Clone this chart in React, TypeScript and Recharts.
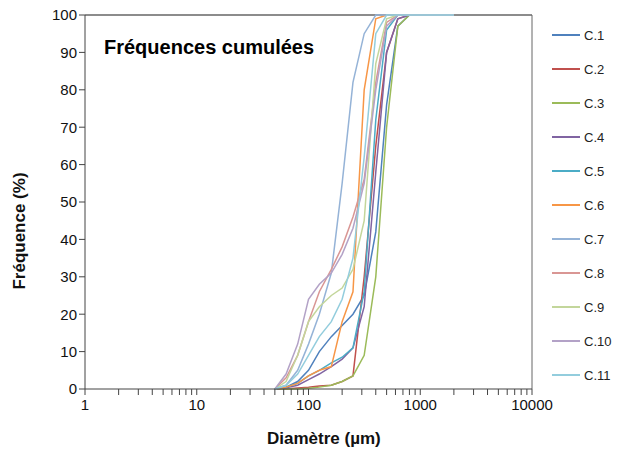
import React from "react";
import { LineChart, Line, XAxis, YAxis, Legend, ReferenceLine } from "recharts";

// tamis (µm)
const sizes = [50, 63, 80, 100, 125, 160, 200, 250, 315, 400, 500, 630, 800, 1000, 2000];

const c1 = [0, 0.5, 2, 5, 10, 14, 17, 20, 25, 42, 76, 97, 100, 100, 100];
const c2 = [0, 0, 0.3, 0.5, 0.8, 1, 2, 3.5, 30, 65, 90, 99, 100, 100, 100];
const c3 = [0, 0, 0, 0.2, 0.5, 1, 2, 3.5, 9, 30, 70, 97, 100, 100, 100];
const c4 = [0, 0.3, 1, 2.5, 4, 6, 8, 11, 22, 58, 90, 99, 100, 100, 100];
const c5 = [0, 0.5, 1.5, 3.5, 5, 7, 8.5, 11, 26, 72, 96, 100, 100, 100, 100];
const c6 = [0, 0.5, 1.5, 3.5, 5, 6, 18, 26, 80, 99, 100, 100, 100, 100, 100];
const c7 = [0, 1, 5, 12, 20, 31, 55, 82, 95, 100, 100, 100, 100, 100, 100];
const c8 = [0, 3, 9, 18, 26, 32, 38, 46, 56, 82, 98, 100, 100, 100, 100];
const c9 = [0, 2, 9, 18, 22, 25, 27, 32, 45, 87, 99, 100, 100, 100, 100];
const c10 = [0, 4, 12, 24, 28, 31, 36, 43, 55, 80, 97, 100, 100, 100, 100];
const c11 = [0, 1, 4, 9, 14, 18, 24, 35, 62, 95, 100, 100, 100, 100, 100];

const seriesNames = ["C.1", "C.2", "C.3", "C.4", "C.5", "C.6", "C.7", "C.8", "C.9", "C.10", "C.11"];
const seriesValues = [c1, c2, c3, c4, c5, c6, c7, c8, c9, c10, c11];
const colors = [
  "#4F81BD", "#C0504D", "#9BBB59", "#8064A2", "#4BACC6", "#F79646",
  "#95B3D7", "#D99694", "#C3D69B", "#B3A2C7", "#93CDDD",
];

const yTicks = [0, 10, 20, 30, 40, 50, 60, 70, 80, 90, 100];
const majorTicks = [1, 10, 100, 1000, 10000];
// graduations secondaires 2..9 de chaque décade
const xTicks: number[] = [];
[1, 10, 100, 1000].forEach((d) => {
  for (let k = 1; k < 10; k++) xTicks.push(d * k);
});
xTicks.push(10000);

const data = sizes.map((s, i) => {
  const row: Record<string, number> = { size: s };
  seriesNames.forEach((n, j) => {
    row[n] = seriesValues[j][i];
  });
  return row;
});

const font = "'Liberation Sans', Arial, sans-serif";

const renderLegend = () => (
  <div style={{ fontFamily: font, fontSize: 13, color: "#222" }}>
    {seriesNames.map((n, i) => (
      <div key={n} style={{ height: 34, display: "flex", alignItems: "center" }}>
        <svg width={30} height={4} style={{ marginRight: 2 }}>
          <line x1={0} y1={2} x2={28} y2={2} stroke={colors[i]} strokeWidth={2} />
        </svg>
        <span>{n}</span>
      </div>
    ))}
  </div>
);

const App: React.FC = () => {
  return (
    <div style={{ position: "absolute", left: 0, top: 0, width: 630, height: 455, background: "#fff" }}>
      <LineChart
        width={630}
        height={455}
        data={data}
        margin={{ top: 15, right: 28, bottom: 36, left: 25 }}
      >
        <XAxis
          dataKey="size"
          type="number"
          scale="log"
          domain={[1, 10000]}
          ticks={xTicks}
          interval={0}
          tickFormatter={(v: number) => (majorTicks.includes(v) ? String(v) : "")}
          height={30}
          stroke="#444"
          tick={{ fill: "#111", fontSize: 15, fontFamily: font }}
          tickMargin={4}
          allowDataOverflow
        />
        <YAxis
          type="number"
          domain={[0, 100]}
          ticks={yTicks}
          interval={0}
          width={60}
          stroke="#444"
          tick={{ fill: "#111", fontSize: 15, fontFamily: font }}
        />
        <ReferenceLine y={100} stroke="#666" strokeWidth={1.5} />
        <ReferenceLine x={10000} stroke="#666" strokeWidth={1} />
        <Legend
          layout="vertical"
          align="right"
          verticalAlign="top"
          content={renderLegend}
          wrapperStyle={{ left: 552, top: 18, width: 70 }}
        />
        {seriesNames.map((n, i) => (
          <Line
            key={n}
            dataKey={n}
            name={n}
            type="linear"
            stroke={colors[i]}
            strokeWidth={1.5}
            dot={false}
            isAnimationActive={false}
          />
        ))}
      </LineChart>
      <div
        style={{
          position: "absolute", left: 104, top: 36, fontFamily: font,
          fontWeight: "bold", fontSize: 20, color: "#000",
        }}
      >
        Fréquences cumulées
      </div>
      <div
        style={{
          position: "absolute", left: 267, top: 429, fontFamily: font,
          fontWeight: "bold", fontSize: 17, color: "#111",
        }}
      >
        Diamètre (µm)
      </div>
      <div
        style={{
          position: "absolute", left: 20, top: 231, fontFamily: font,
          fontWeight: "bold", fontSize: 17, color: "#111",
          transform: "translate(-50%, -50%) rotate(-90deg)", whiteSpace: "nowrap",
        }}
      >
        Fréquence (%)
      </div>
    </div>
  );
};

export default App;
